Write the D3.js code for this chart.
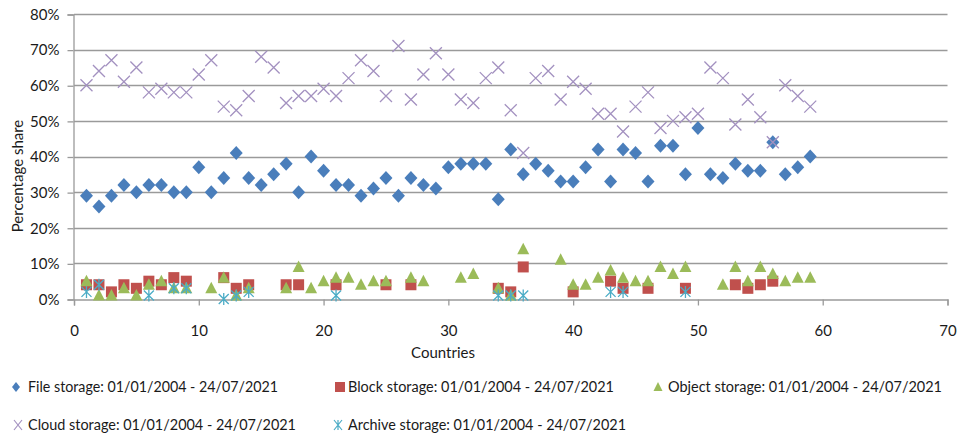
<!DOCTYPE html>
<html><head><meta charset="utf-8">
<script src="https://cdn.jsdelivr.net/npm/d3@7"></script>
<style>html,body{margin:0;padding:0;background:#fff;}svg{display:block;font-family:Lato,"Open Sans",sans-serif;}</style>
</head><body><svg id="c" width="960" height="438"></svg>
<script>
const countries = [1,2,3,4,5,6,7,8,9,10,11,12,13,14,15,16,17,18,19,20,21,22,23,24,25,26,27,28,29,30,31,32,33,34,35,36,37,38,39,40,41,42,43,44,45,46,47,48,49,50,51,52,53,54,55,56,57,58,59];
const fileStorage = [29,26,29,32,30,32,32,30,30,37,30,34,41,34,32,35,38,30,40,36,32,32,29,31,34,29,34,32,31,37,38,38,38,28,42,35,38,36,33,33,37,42,33,42,41,33,43,43,35,48,35,34,38,36,36,44,35,37,40];
const blockStorage = [4,4,2,4,3,5,4,6,5,null,null,6,3,4,null,null,4,4,null,null,4,null,null,null,4,null,4,null,null,null,null,null,null,3,2,9,null,null,null,2,null,null,5,3,null,3,null,null,3,null,null,null,4,3,4,5,null,null,null];
const objectStorage = [5,1,1,3,1,4,5,3,3,null,3,6,1,3,null,null,3,9,3,5,6,6,4,5,5,null,6,5,null,null,6,7,null,3,1,14,null,null,11,4,4,6,8,6,5,5,9,7,9,null,null,4,9,5,9,7,5,6,6];
const cloudStorage = [60,64,67,61,65,58,59,58,58,63,67,54,53,57,68,65,55,57,57,59,57,62,67,64,57,71,56,63,69,63,56,55,62,65,53,41,62,64,56,61,59,52,52,47,54,58,48,50,51,52,65,62,49,56,51,44,60,57,54];
const archiveStorage = [2,4,null,null,null,1,null,3,3,null,null,0,1,2,null,null,null,null,null,null,1,null,null,null,null,null,null,null,null,null,null,null,null,1,1,1,null,null,null,null,null,null,2,2,null,null,null,null,2,null,null,null,null,null,null,null,null,null,null];
const xTicks = [0,10,20,30,40,50,60,70];
const yTicks = [0,10,20,30,40,50,60,70,80];
const legendLabels = ["File storage: 01/01/2004 - 24/07/2021","Block storage: 01/01/2004 - 24/07/2021","Object storage: 01/01/2004 - 24/07/2021","Cloud storage: 01/01/2004 - 24/07/2021","Archive storage: 01/01/2004 - 24/07/2021"];

const svg = d3.select("#c");
const x = d3.scaleLinear().domain([0,70]).range([74,947.5]);
const y = d3.scaleLinear().domain([0,80]).range([299,14]);

// gridlines
svg.append("g").selectAll("line").data(yTicks.filter(d=>d>0)).join("line")
  .attr("x1",x(0)).attr("x2",x(70)).attr("y1",d=>Math.round(y(d))+0.5).attr("y2",d=>Math.round(y(d))+0.5)
  .attr("stroke","#9a9a9a").attr("stroke-width",1.3);

// y axis
const yAxis = d3.axisLeft(y).tickValues(yTicks).tickFormat(d=>d+"%").tickSize(6).tickPadding(8);
const gy = svg.append("g").attr("transform","translate("+(x(0)-0.5)+",0.5)").call(yAxis);
gy.select(".domain").attr("stroke","#9a9a9a").attr("stroke-width",1.3);
gy.selectAll(".tick line").attr("stroke","#9a9a9a").attr("stroke-width",1.3);
gy.selectAll("text").attr("font-size",15).attr("fill","#1a1a1a").attr("font-family","Lato");

// x axis
const xAxis = d3.axisBottom(x).tickValues(xTicks).tickFormat(d3.format("d")).tickSize(6).tickPadding(20);
const gx = svg.append("g").attr("transform","translate(0,"+(Math.round(y(0))+0.5)+")").call(xAxis);
gx.select(".domain").attr("stroke","#9a9a9a").attr("stroke-width",1.3);
gx.selectAll(".tick line").attr("stroke","#9a9a9a").attr("stroke-width",1.3);
gx.selectAll("text").attr("font-size",15).attr("fill","#1a1a1a").attr("font-family","Lato");

// axis titles
svg.append("text").attr("x",443).attr("y",358).attr("text-anchor","middle").attr("font-size",15).attr("fill","#1a1a1a").text("Countries");
svg.append("text").attr("transform","translate(23,176) rotate(-90)").attr("text-anchor","middle").attr("font-size",15).attr("fill","#1a1a1a").text("Percentage share");

// marker shapes
const colors = {file:"#4a7ebb",block:"#c0504d",object:"#9bbb59",cloud:"#a391c0",archive:"#4bacc6"};
function drawMarker(g, type, cx, cy){
  if(type==="file"){
    g.append("path").attr("d",`M${cx},${cy-7}L${cx+6.5},${cy}L${cx},${cy+7}L${cx-6.5},${cy}Z`).attr("fill",colors.file);
  } else if(type==="block"){
    g.append("rect").attr("x",cx-5.5).attr("y",cy-5.5).attr("width",11).attr("height",11).attr("fill",colors.block);
  } else if(type==="object"){
    g.append("path").attr("d",`M${cx},${cy-6.5}L${cx+6},${cy+5}L${cx-6},${cy+5}Z`).attr("fill",colors.object);
  } else if(type==="cloud"){
    g.append("path").attr("d",`M${cx-6},${cy-6}L${cx+6},${cy+6}M${cx+6},${cy-6}L${cx-6},${cy+6}`).attr("stroke",colors.cloud).attr("stroke-width",1.3).attr("fill","none");
  } else if(type==="archive"){
    g.append("path").attr("d",`M${cx-5},${cy-5}L${cx+5},${cy+5}M${cx+5},${cy-5}L${cx-5},${cy+5}M${cx},${cy-6}L${cx},${cy+6}`).attr("stroke",colors.archive).attr("stroke-width",1.3).attr("fill","none");
  }
}
const series = [["file",fileStorage],["block",blockStorage],["object",objectStorage],["cloud",cloudStorage],["archive",archiveStorage]];
series.forEach(([type,vals])=>{
  const g = svg.append("g");
  countries.forEach((c,i)=>{ if(vals[i]!==null && vals[i]!==undefined) drawMarker(g,type,x(c),y(vals[i])); });
});

// legend
const legendPos = [[16,387,28,250],[340,387,348,266],[658,387,668,274],[18,425,28,268],[338,425,348,278]];
series.forEach(([type],i)=>{
  const [mx,my,tx,tw] = legendPos[i];
  const g = svg.append("g");
  if(type==="file"){ g.append("path").attr("d",`M${mx},${my-5}L${mx+4},${my}L${mx},${my+5}L${mx-4},${my}Z`).attr("fill",colors.file); }
  else if(type==="block"){ g.append("rect").attr("x",mx-5).attr("y",my-5).attr("width",10).attr("height",10).attr("fill",colors.block); }
  else if(type==="object"){ g.append("path").attr("d",`M${mx},${my-5}L${mx+4.5},${my+4}L${mx-4.5},${my+4}Z`).attr("fill",colors.object); }
  else if(type==="cloud"){ g.append("path").attr("d",`M${mx-4},${my-5}L${mx+4},${my+5}M${mx+4},${my-5}L${mx-4},${my+5}`).attr("stroke",colors.cloud).attr("stroke-width",1.2); }
  else { g.append("path").attr("d",`M${mx-4},${my-5}L${mx+4},${my+5}M${mx+4},${my-5}L${mx-4},${my+5}M${mx},${my-5}L${mx},${my+5}`).attr("stroke",colors.archive).attr("stroke-width",1.2); }
  g.append("text").attr("x",tx).attr("y",my+5).attr("font-size",14.5).attr("fill","#1a1a1a")
    .attr("textLength",tw).attr("lengthAdjust","spacingAndGlyphs").text(legendLabels[i]);
});
</script></body></html>
